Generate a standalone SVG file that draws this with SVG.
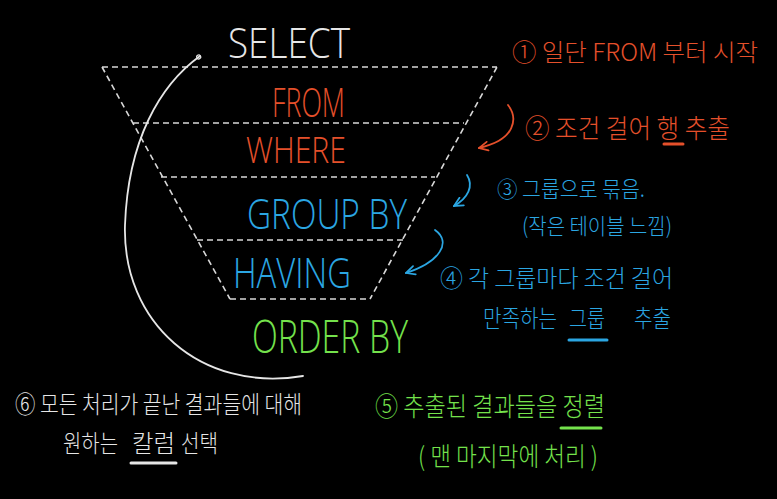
<svg xmlns="http://www.w3.org/2000/svg" width="777" height="499" viewBox="0 0 777 499">
<defs>
<style>
.bg{fill:#000}
.dash{stroke:#d8d8d8;stroke-width:1.6;stroke-dasharray:6 4;fill:none}
.kw{font-family:"Open Sans","Liberation Sans",sans-serif;font-weight:300}
.ko{font-family:"Noto Sans CJK KR","Noto Sans",sans-serif;font-weight:300}
.w{fill:#e6e6e6}
.r{fill:#e5502b}
.b{fill:#2ba6e2}
.g{fill:#74e24c}
.ul{stroke-width:3;stroke-linecap:round;fill:none}
.arc{fill:none;stroke-width:1.8;stroke-linecap:round}
</style>
<marker id="ahW" viewBox="0 0 10 10" refX="8" refY="5" markerWidth="8" markerHeight="8" orient="auto" markerUnits="userSpaceOnUse">
<circle cx="6" cy="5" r="2.5" fill="none" stroke="#e6e6e6" stroke-width="1.5"/>
</marker>
<marker id="ahR" viewBox="0 0 10 10" refX="9" refY="5" markerWidth="11" markerHeight="11" orient="auto" markerUnits="userSpaceOnUse">
<path d="M1 1 L9 5 L1 9" fill="none" stroke="#e5502b" stroke-width="1.6" stroke-linecap="round"/>
</marker>
<marker id="ahB" viewBox="0 0 10 10" refX="9" refY="5" markerWidth="11" markerHeight="11" orient="auto" markerUnits="userSpaceOnUse">
<path d="M1 1 L9 5 L1 9" fill="none" stroke="#2ba6e2" stroke-width="1.6" stroke-linecap="round"/>
</marker>
</defs>
<rect class="bg" x="0" y="0" width="777" height="499"/>

<g id="funnel">
<path class="dash" d="M102 67 L497 67 M133 123 L464 123 M161 177 L435 177 M197 240 L403 240 M230 299 L370 299 M102 67 L230 299 M497 67 L370 299"/>
</g>

<g id="connectors">
<path class="arc" stroke="#e6e6e6" d="M303 376 C200 393 122 322 125 225 C128 140 160 85 200 56" marker-end="url(#ahW)"/>
<path class="arc" stroke="#e5502b" d="M508 105 C518 118 516 140 479 148" marker-end="url(#ahR)"/>
<path class="arc" stroke="#2ba6e2" d="M467 175 C474 186 468 198 454 206" marker-end="url(#ahB)"/>
<path class="arc" stroke="#2ba6e2" d="M435 230 C452 242 440 262 406 273" marker-end="url(#ahB)"/>
</g>

<g id="select"><text class="kw w" x="228" y="58" font-size="43" textLength="122" lengthAdjust="spacingAndGlyphs">SELECT</text></g>
<g id="from"><text class="kw r" x="272" y="117" font-size="41" textLength="73" lengthAdjust="spacingAndGlyphs">FROM</text></g>
<g id="where"><text class="kw r" x="246" y="163" font-size="36" textLength="100" lengthAdjust="spacingAndGlyphs">WHERE</text></g>
<g id="groupby"><text class="kw b" x="247" y="229" font-size="42" textLength="160" lengthAdjust="spacingAndGlyphs">GROUP BY</text></g>
<g id="having"><text class="kw b" x="233" y="288" font-size="42" textLength="118" lengthAdjust="spacingAndGlyphs">HAVING</text></g>
<g id="orderby"><text class="kw g" x="252" y="353" font-size="46" textLength="156" lengthAdjust="spacingAndGlyphs">ORDER BY</text></g>

<g id="note1"><text class="ko r" x="512" y="61" font-size="24" textLength="246" lengthAdjust="spacingAndGlyphs">① 일단 FROM 부터 시작</text></g>
<g id="note2">
<text class="ko r" x="525" y="138" font-size="26" textLength="205" lengthAdjust="spacingAndGlyphs">② 조건 걸어 행 추출</text>
<line class="ul" stroke="#e5502b" x1="664" y1="144" x2="683" y2="144"/>
</g>
<g id="note3">
<text class="ko b" x="497" y="197" font-size="22" textLength="148" lengthAdjust="spacingAndGlyphs">③ 그룹으로 묶음.</text>
<text class="ko b" x="522" y="234" font-size="22" textLength="150" lengthAdjust="spacingAndGlyphs">(작은 테이블 느낌)</text>
</g>
<g id="note4">
<text class="ko b" x="440" y="287" font-size="24" textLength="233" lengthAdjust="spacingAndGlyphs">④ 각 그룹마다 조건 걸어</text>
<text class="ko b" x="483" y="327" font-size="24" textLength="74" lengthAdjust="spacingAndGlyphs">만족하는</text>
<text class="ko b" x="569" y="327" font-size="24" textLength="36" lengthAdjust="spacingAndGlyphs">그룹</text>
<text class="ko b" x="634" y="327" font-size="24" textLength="37" lengthAdjust="spacingAndGlyphs">추출</text>
<line class="ul" stroke="#2ba6e2" x1="569" y1="340" x2="607" y2="340"/>
</g>
<g id="note5">
<text class="ko g" x="375" y="416" font-size="26" textLength="230" lengthAdjust="spacingAndGlyphs">⑤ 추출된 결과들을 정렬</text>
<line class="ul" stroke="#74e24c" x1="561" y1="428" x2="601" y2="428"/>
<text class="ko g" x="418" y="466" font-size="26" textLength="180" lengthAdjust="spacingAndGlyphs">( 맨 마지막에 처리 )</text>
</g>
<g id="note6">
<text class="ko w" x="15" y="413" font-size="24" textLength="287" lengthAdjust="spacingAndGlyphs">⑥ 모든 처리가 끝난 결과들에 대해</text>
<text class="ko w" x="63" y="452" font-size="24" textLength="55" lengthAdjust="spacingAndGlyphs">원하는</text>
<text class="ko w" x="132" y="452" font-size="24" textLength="43" lengthAdjust="spacingAndGlyphs">칼럼</text>
<text class="ko w" x="181" y="452" font-size="24" textLength="37" lengthAdjust="spacingAndGlyphs">선택</text>
<line class="ul" stroke="#e6e6e6" x1="131" y1="463" x2="176" y2="463"/>
</g>
</svg>
